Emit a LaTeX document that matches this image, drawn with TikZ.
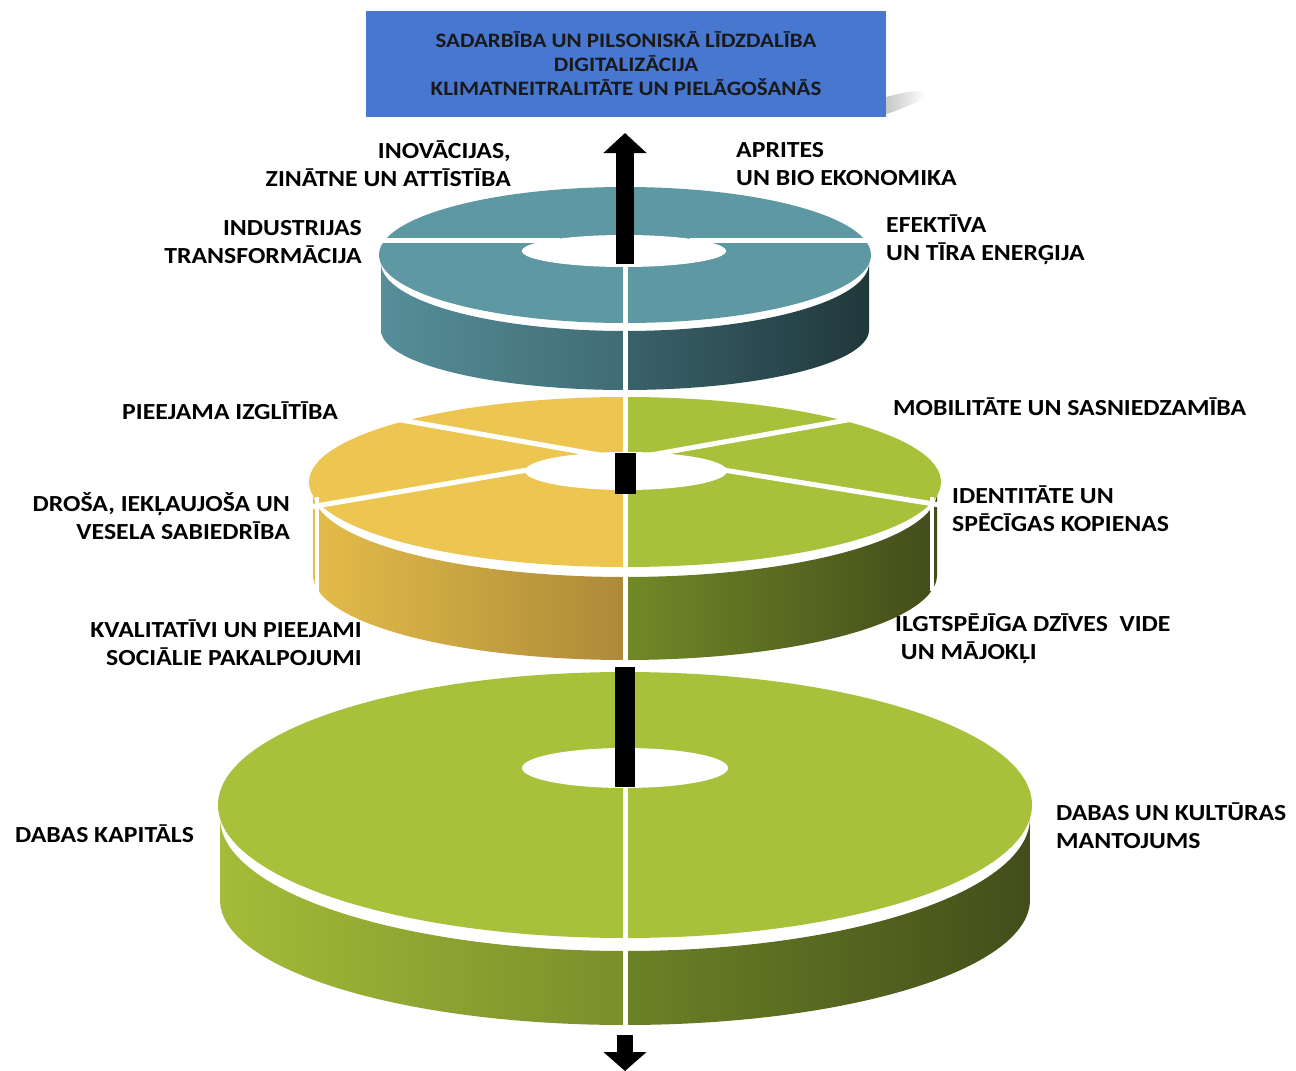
\documentclass[tikz,border=0pt]{standalone}
\usepackage{fontspec}
\setmainfont{Carlito}[FakeStretch=1.12]
\usetikzlibrary{arrows.meta,fadings}
\definecolor{boxblue}{RGB}{72,119,207}
\definecolor{tealF}{RGB}{94,152,163}
\definecolor{tealA}{RGB}{86,142,153}
\definecolor{tealB}{RGB}{64,108,116}
\definecolor{tealC}{RGB}{58,98,106}
\definecolor{tealD}{RGB}{32,56,60}
\definecolor{yelF}{RGB}{236,198,80}
\definecolor{yelA}{RGB}{228,188,74}
\definecolor{yelB}{RGB}{172,138,56}
\definecolor{grnF}{RGB}{168,193,58}
\definecolor{grnA}{RGB}{114,137,40}
\definecolor{grnB}{RGB}{66,76,26}
\definecolor{bgrnA}{RGB}{164,188,57}
\definecolor{bgrnB}{RGB}{122,142,42}
\definecolor{bgrnC}{RGB}{108,130,38}
\definecolor{bgrnD}{RGB}{66,78,26}
\begin{document}
\begin{tikzpicture}[x=1pt,y=-1pt,
  lbl/.style={font=\bfseries\fontsize{23}{28}\selectfont, inner sep=0pt, text=black},
  seg/.style={white, line width=5pt},
  rimline/.style={white, line width=4pt},
  goalbox/.style={fill=boxblue, minimum width=520pt, minimum height=106pt, inner sep=0pt,
    align=center, font=\bfseries\fontsize{20.5}{24}\selectfont, text=black!90},
  axis/.style={black, line width=18pt, -{Triangle[width=42pt,length=20pt]}},
  axisdown/.style={black, line width=16pt, -{Triangle[width=42pt,length=19pt]}}
]
\useasboundingbox (0,0) rectangle (1296,1071);

% ---------- goal box ----------
\fill[black!22, path fading=east] (886,97) .. controls (905,92) and (915,90) .. (926,92) -- (926,98) .. controls (912,104) and (900,110) .. (886,114) -- cycle;
\node[goalbox] (goal) at (626,64) {SADARBĪBA UN PILSONISKĀ LĪDZDALĪBA\\DIGITALIZĀCIJA\\KLIMATNEITRALITĀTE UN PIELĀGOŠANĀS};

% ---------- top disk (teal) ----------
\shade[left color=tealA, right color=tealB]
  (381,263) -- (381,330)
  -- plot[domain=180:90,samples=50,variable=\t] ({625+244*cos(\t)},{330+60*sin(\t)})
  -- plot[domain=90:180,samples=50,variable=\t] ({625+244*cos(\t)},{263+68*sin(\t)}) -- cycle;
\shade[left color=tealC, right color=tealD]
  (869,263) -- (869,330)
  -- plot[domain=0:90,samples=50,variable=\t] ({625+244*cos(\t)},{330+60*sin(\t)})
  -- plot[domain=90:0,samples=50,variable=\t] ({625+244*cos(\t)},{263+68*sin(\t)}) -- cycle;
\fill[tealF] (625,255) ellipse [x radius=246pt, y radius=68pt];
\draw[seg] (370,240) -- (560,240);
\draw[seg] (690,240) -- (880,240);
\draw[seg] (625,258) -- (625,391);
\fill[white] (624,251) ellipse [x radius=102pt, y radius=16pt];

% ---------- middle disk (yellow / green) ----------
\shade[left color=yelA, right color=yelB]
  (313,492) -- (313,575)
  -- plot[domain=180:90,samples=60,variable=\t] ({625+312*cos(\t)},{575+85*sin(\t)})
  -- plot[domain=90:180,samples=60,variable=\t] ({625+312*cos(\t)},{492+85*sin(\t)}) -- cycle;
\shade[left color=grnA, right color=grnB]
  (937,492) -- (937,575)
  -- plot[domain=0:90,samples=60,variable=\t] ({625+312*cos(\t)},{575+85*sin(\t)})
  -- plot[domain=90:0,samples=60,variable=\t] ({625+312*cos(\t)},{492+85*sin(\t)}) -- cycle;
\begin{scope}
  \clip (0,0) rectangle (625,1071);
  \fill[yelF] (625,482) ellipse [x radius=316pt, y radius=85pt];
\end{scope}
\begin{scope}
  \clip (625,0) rectangle (1296,1071);
  \fill[grnF] (625,482) ellipse [x radius=316pt, y radius=85pt];
\end{scope}
\draw[seg] (384,417) -- (605,456);
\draw[seg] (310,507) -- (545,467);
\draw[seg] (864,417) -- (645,456);
\draw[seg] (940,505) -- (705,467);
\draw[seg] (625,394) -- (625,460);
\draw[seg] (625,485) -- (625,662);
\draw[rimline] (317,497) -- (317,591);
\draw[rimline] (932,497) -- (932,591);
\fill[white] (626,471) ellipse [x radius=101pt, y radius=19pt];
\fill[black] (615,453) rectangle (636,494);

% ---------- bottom disk (green) ----------
\shade[left color=bgrnA, right color=bgrnB]
  (220,818) -- (220,900)
  -- plot[domain=180:90,samples=70,variable=\t] ({625+405*cos(\t)},{900+125*sin(\t)})
  -- plot[domain=90:180,samples=70,variable=\t] ({625+405*cos(\t)},{818+133*sin(\t)}) -- cycle;
\shade[left color=bgrnC, right color=bgrnD]
  (1030,818) -- (1030,900)
  -- plot[domain=0:90,samples=70,variable=\t] ({625+405*cos(\t)},{900+125*sin(\t)})
  -- plot[domain=90:0,samples=70,variable=\t] ({625+405*cos(\t)},{818+133*sin(\t)}) -- cycle;
\fill[grnF] (625,805) ellipse [x radius=407pt, y radius=133pt];
\draw[seg] (625,770) -- (625,1027);
\fill[white] (625,768) ellipse [x radius=103pt, y radius=20pt];
\fill[black] (615,667) rectangle (635,787);

% ---------- axis arrows ----------
\coordinate (upS) at (625,264);
\coordinate (upE) at (625,133);
\draw[axis] (upS) -- (upE);
\coordinate (dnS) at (625,1035);
\coordinate (dnE) at (625,1071);
\draw[axisdown] (dnS) -- (dnE);

% ---------- labels ----------
\node[lbl, anchor=east, align=right] (l1) at (511,164) {INOVĀCIJAS,\\ZINĀTNE UN ATTĪSTĪBA};
\node[lbl, anchor=west, align=left] (l2) at (736,164) {APRITES\\UN BIO EKONOMIKA};
\node[lbl, anchor=east, align=right] (l3) at (362,242) {INDUSTRIJAS\\TRANSFORMĀCIJA};
\node[lbl, anchor=west, align=left] (l4) at (886,240) {EFEKTĪVA\\UN TĪRA ENERĢIJA};
\node[lbl, anchor=east] (l5) at (338,411) {PIEEJAMA IZGLĪTĪBA};
\node[lbl, anchor=west] (l6) at (893,407) {MOBILITĀTE UN SASNIEDZAMĪBA};
\node[lbl, anchor=east, align=right] (l7) at (290,516) {DROŠA, IEKĻAUJOŠA UN\\VESELA SABIEDRĪBA};
\node[lbl, anchor=west, align=left] (l8) at (952,509) {IDENTITĀTE UN\\SPĒCĪGAS KOPIENAS};
\node[lbl, anchor=east, align=right] (l9) at (362,643) {KVALITATĪVI UN PIEEJAMI\\SOCIĀLIE PAKALPOJUMI};
\node[lbl, anchor=west, align=left] (l10) at (895,639) {ILGTSPĒJĪGA DZĪVES\ \ VIDE\\\hspace*{0.25em}UN MĀJOKĻI};
\node[lbl, anchor=west] (l11) at (15,834) {DABAS KAPITĀLS};
\node[lbl, anchor=west, align=left] (l12) at (1056,826) {DABAS UN KULTŪRAS\\MANTOJUMS};
\end{tikzpicture}
\end{document}
